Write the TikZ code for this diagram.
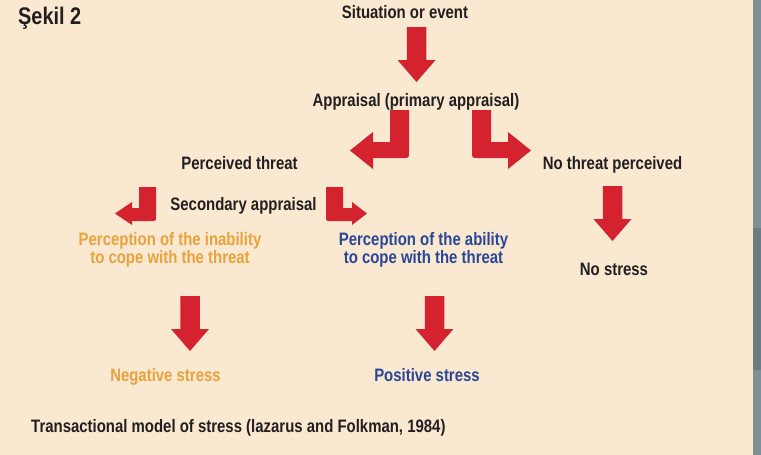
\documentclass[tikz,border=0pt]{standalone}
\usepackage{fontspec}
\setmainfont{Liberation Sans}[FakeStretch=0.83]
\definecolor{bgc}{HTML}{FAE8D1}
\definecolor{arrred}{HTML}{D4232E}
\definecolor{txtdark}{HTML}{231F20}
\definecolor{txtorange}{HTML}{E8A33C}
\definecolor{txtblue}{HTML}{2A4797}
\definecolor{stripgray}{HTML}{7F8F96}
\definecolor{stripdark}{HTML}{6B7B81}
\tikzset{
  lbl/.style={font=\bfseries\fontsize{18}{18}\selectfont, text=txtdark, inner sep=0pt, anchor=base, align=center},
  title/.style={font=\bfseries\fontsize{24}{26}\selectfont, text=txtdark, inner sep=0pt, anchor=base west},
  orangetxt/.style={lbl, text=txtorange},
  bluetxt/.style={lbl, text=txtblue},
  blockarrow/.style={fill=arrred, draw=none},
  pics/downarr/.style={code={
    \fill[blockarrow] (-9.75,0) -- (9.75,0) -- (9.75,33) -- (19,33) -- (0,55) -- (-19,33) -- (-9.75,33) -- cycle;
  }},
  pics/bigleft/.style={code={
    \fill[blockarrow] (0,0) -- (0,42) .. controls (0,48) .. (-6,48) -- (-36,48) -- (-36,59) -- (-59,40.5) -- (-36,22) -- (-36,32) -- (-19,32) -- (-19,0) -- cycle;
  }},
  pics/bigright/.style={code={
    \fill[blockarrow] (0,0) -- (0,42) .. controls (0,48) .. (6,48) -- (36,48) -- (36,59) -- (59,40.5) -- (36,22) -- (36,32) -- (19,32) -- (19,0) -- cycle;
  }},
  pics/smallleft/.style={code={
    \fill[blockarrow] (0,0) -- (0,29) .. controls (0,34) .. (-5,34) -- (-24,34) -- (-24,38) -- (-41,26.5) -- (-24,15) -- (-24,21) -- (-17,21) -- (-17,0) -- cycle;
  }},
  pics/smallright/.style={code={
    \fill[blockarrow] (0,0) -- (0,29) .. controls (0,34) .. (5,34) -- (26,34) -- (26,38) -- (41,26.5) -- (26,15) -- (26,21) -- (17,21) -- (17,0) -- cycle;
  }}
}
\begin{document}
\begin{tikzpicture}[x=1pt,y=-1pt]
\fill[bgc] (0,0) rectangle (761,455);
\fill[stripgray] (753,0) rectangle (761,455);
\fill[stripdark] (753,228) rectangle (761,370);
\useasboundingbox (0,0) rectangle (761,455);

\node[title] (sekil) at (18,24) {Şekil 2};

\node[lbl] (sit) at (405,19) {Situation or event};
\node[lbl] (appr) at (416,106) {Appraisal (primary appraisal)};
\node[lbl] (threat) at (239.5,169) {Perceived threat};
\node[lbl] (nothreat) at (612.5,169) {No threat perceived};
\node[lbl] (second) at (243.5,210) {Secondary appraisal};
\node[orangetxt] (inab) at (170,263) {Perception of the inability\\to cope with the threat};
\node[bluetxt] (abil) at (423.5,263) {Perception of the ability\\to cope with the threat};
\node[lbl] (nostress) at (614,275) {No stress};
\node[orangetxt] (neg) at (165.5,381) {Negative stress};
\node[bluetxt] (pos) at (427,381) {Positive stress};
\node[lbl, anchor=base west] (caption) at (31,432) {Transactional model of stress (lazarus and Folkman, 1984)};

\coordinate (a1) at (416.5,27);
\coordinate (a2) at (409,110);
\coordinate (a3) at (472,110);
\coordinate (a4) at (156,187);
\coordinate (a5) at (326,187);
\coordinate (a6) at (612.5,186);
\coordinate (a7) at (190,296);
\coordinate (a8) at (434.5,296);

\pic at (a1) {downarr};
\pic at (a2) {bigleft};
\pic at (a3) {bigright};
\pic at (a4) {smallleft};
\pic at (a5) {smallright};
\pic at (a6) {downarr};
\pic at (a7) {downarr};
\pic at (a8) {downarr};
\end{tikzpicture}
\end{document}
